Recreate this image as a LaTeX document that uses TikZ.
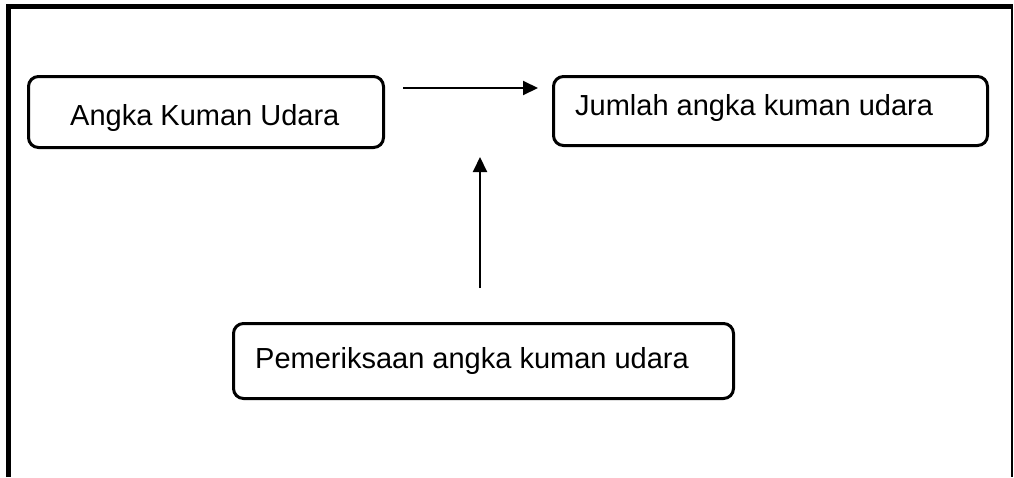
\documentclass[tikz,border=0pt]{standalone}
\usepackage{fontspec}
\setmainfont{Liberation Sans}
\usetikzlibrary{arrows.meta}
\begin{document}
\begin{tikzpicture}[x=1pt,y=-1pt,
  box/.style={draw, line width=3pt, rounded corners=10pt, inner sep=0pt},
  lbl/.style={anchor=base west, inner sep=0pt, font=\fontsize{29}{34}\selectfont},
  conn/.style={line width=2pt, -{Triangle[length=15pt,width=14pt]}}]
\useasboundingbox (0,0) rectangle (1014,477);
% frame
\draw[line width=5pt] (8.5,477) -- (8.5,6.5) -- (1013,6.5);
\draw[line width=1.5pt] (1012.2,4) -- (1012.2,477);
% boxes
\node[box, minimum width=355pt, minimum height=71pt] (b1) at (206,112) {};
\node[box, minimum width=434pt, minimum height=69pt] (b2) at (770.5,111) {};
\node[box, minimum width=500pt, minimum height=75pt] (b3) at (483.5,361) {};
% labels
\node[lbl] (t1) at (70,125) {Angka Kuman Udara};
\node[lbl] (t2) at (575,115) {Jumlah angka kuman udara};
\node[lbl] (t3) at (255,368) {Pemeriksaan angka kuman udara};
% connectors
\coordinate (h1) at (403,88);
\coordinate (h2) at (538,88);
\coordinate (v1) at (480,288);
\coordinate (v2) at (480,157);
\draw[conn] (h1) -- (h2);
\draw[conn] (v1) -- (v2);
\end{tikzpicture}
\end{document}
